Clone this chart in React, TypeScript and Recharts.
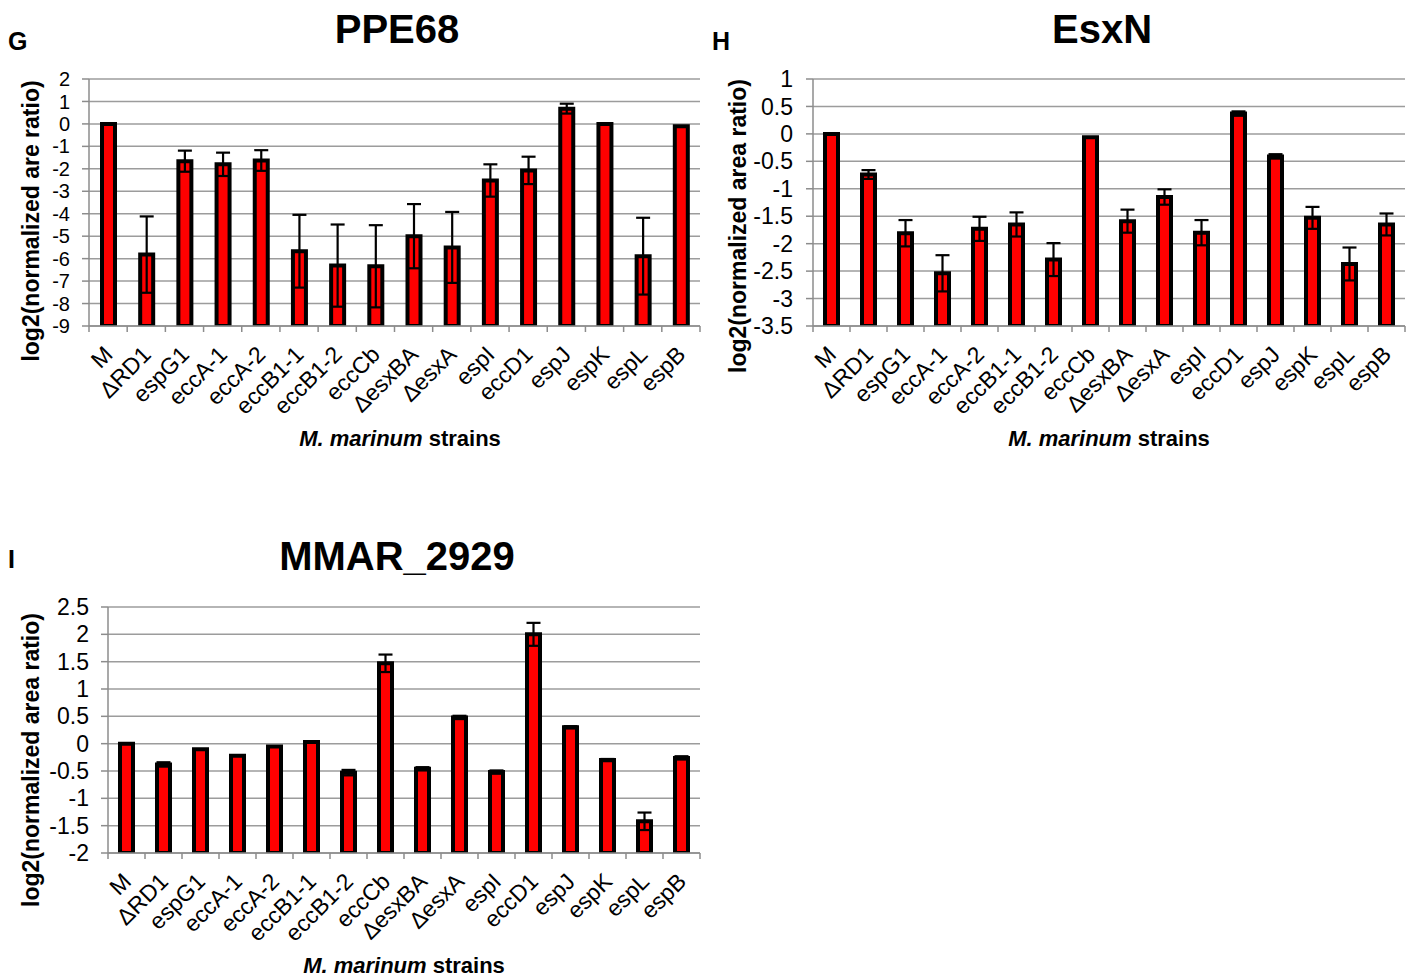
import React from 'react';
import { BarChart, Bar, XAxis, YAxis, CartesianGrid, ErrorBar } from 'recharts';

const categories = ['M', 'ΔRD1', 'espG1', 'eccA-1', 'eccA-2', 'eccB1-1', 'eccB1-2', 'eccCb', 'ΔesxBA', 'ΔesxA', 'espI', 'eccD1', 'espJ', 'espK', 'espL', 'espB'];

const ppe68Values = [0, -5.82, -1.66, -1.8, -1.63, -5.67, -6.31, -6.34, -5.0, -5.5, -2.52, -2.07, 0.68, 0, -5.89, -0.1];
const ppe68Errors = [0, 1.7, 0.47, 0.52, 0.46, 1.62, 1.83, 1.83, 1.43, 1.58, 0.72, 0.61, 0.22, 0, 1.71, 0];

const esxNValues = [0, -0.74, -1.81, -2.54, -1.73, -1.65, -2.29, -0.06, -1.59, -1.15, -1.8, 0.37, -0.41, -1.53, -2.37, -1.65];
const esxNErrors = [0, 0.08, 0.24, 0.33, 0.22, 0.22, 0.3, 0, 0.21, 0.14, 0.23, 0.04, 0.04, 0.2, 0.3, 0.2];

const mmarValues = [0, -0.38, -0.1, -0.22, -0.05, 0.03, -0.53, 1.47, -0.46, 0.48, -0.52, 2.0, 0.3, -0.3, -1.42, -0.26];
const mmarErrors = [0, 0.04, 0, 0, 0, 0, 0.05, 0.16, 0.03, 0.03, 0.03, 0.21, 0.02, 0.02, 0.16, 0.03];

const ppe68Ticks = [-9, -8, -7, -6, -5, -4, -3, -2, -1, 0, 1, 2];
const esxNTicks = [-3.5, -3, -2.5, -2, -1.5, -1, -0.5, 0, 0.5, 1];
const mmarTicks = [-2, -1.5, -1, -0.5, 0, 0.5, 1, 1.5, 2, 2.5];

const FONT = '"Liberation Sans", Arial, Helvetica, sans-serif';
const AXIS_GRAY = '#8c8c8c';

type Row = { name: string; value: number; err: number };

function buildRows(values: number[], errors: number[]): Row[] {
  return categories.map((name, i) => ({ name, value: values[i], err: errors[i] }));
}

type Box = { x: number; y: number; w: number; h: number };
type Plot = { left: number; top: number; right: number; bottom: number };

function Panel({ region, plot, rows, ticks, tickMargin, yFont }: { region: Box; plot: Plot; rows: Row[]; ticks: number[]; tickMargin: number; yFont: number }) {
  const yAxisWidth = 70;
  const xAxisHeight = 100;
  const margin = {
    top: plot.top - region.y,
    left: plot.left - region.x - yAxisWidth,
    right: region.x + region.w - plot.right,
    bottom: region.y + region.h - plot.bottom - xAxisHeight,
  };
  const min = ticks[0];
  const max = ticks[ticks.length - 1];
  const band = (plot.right - plot.left) / rows.length;

  const renderTick = (p: any) => {
    const { x, y, payload, index } = p;
    const half = band / 2;
    const tx = x + 6;
    const ty = y + 30;
    return (
      <g>
        <line x1={x - half} x2={x - half} y1={y} y2={y + 6} stroke={AXIS_GRAY} strokeWidth={1.5} />
        {index === rows.length - 1 ? (
          <line x1={x + half} x2={x + half} y1={y} y2={y + 6} stroke={AXIS_GRAY} strokeWidth={1.5} />
        ) : null}
        <text
          x={tx}
          y={ty}
          transform={`rotate(-45 ${tx} ${ty})`}
          textAnchor="end"
          fontSize={23}
          fontFamily={FONT}
          fill="#000"
        >
          {payload.value}
        </text>
      </g>
    );
  };

  return (
    <div style={{ position: 'absolute', left: region.x, top: region.y, width: region.w, height: region.h }}>
      <BarChart width={region.w} height={region.h} data={rows} margin={margin}>
        <CartesianGrid vertical={false} stroke="#9c9c9c" strokeWidth={1.5} />
        <XAxis
          dataKey="name"
          interval={0}
          height={xAxisHeight}
          tickSize={0}
          tickMargin={0}
          tickLine={false}
          axisLine={{ stroke: AXIS_GRAY, strokeWidth: 1.5 }}
          tick={renderTick}
        />
        <YAxis
          type="number"
          domain={[min, max]}
          ticks={ticks}
          interval={0}
          width={yAxisWidth}
          tickSize={7}
          tickMargin={tickMargin}
          allowDataOverflow
          axisLine={{ stroke: AXIS_GRAY, strokeWidth: 1.5 }}
          tickLine={{ stroke: AXIS_GRAY, strokeWidth: 1.5 }}
          tick={{ fontSize: yFont, fill: '#000', fontFamily: FONT }}
        />
        <Bar
          dataKey={(d: Row) => [min, d.value]}
          fill="#ff0000"
          stroke="#000"
          strokeWidth={4}
          barSize={13}
          isAnimationActive={false}
        >
          <ErrorBar dataKey="err" width={7} stroke="#000" strokeWidth={2.2} direction="y" isAnimationActive={false} />
        </Bar>
      </BarChart>
    </div>
  );
}

function XTitle({ x, y }: { x: number; y: number }) {
  return (
    <text x={x} y={y} textAnchor="middle" fontSize={22} fontWeight="bold" fontFamily={FONT} fill="#000">
      <tspan fontStyle="italic">M. marinum</tspan> strains
    </text>
  );
}

function YTitle({ x, y, label }: { x: number; y: number; label: string }) {
  return (
    <text
      transform={`translate(${x} ${y}) rotate(-90)`}
      textAnchor="middle"
      fontSize={23}
      fontWeight="bold"
      fontFamily={FONT}
      fill="#000"
    >
      {label}
    </text>
  );
}

export default function App() {
  const ppe68Rows = buildRows(ppe68Values, ppe68Errors);
  const esxNRows = buildRows(esxNValues, esxNErrors);
  const mmarRows = buildRows(mmarValues, mmarErrors);

  return (
    <div style={{ position: 'absolute', left: 0, top: 0, width: 1408, height: 980, background: '#fff', overflow: 'hidden' }}>
      <svg width={1408} height={980} style={{ position: 'absolute', left: 0, top: 0 }}>
        <text x={8} y={50} fontSize={25} fontWeight="bold" fontFamily={FONT} fill="#000">G</text>
        <text x={712} y={50} fontSize={25} fontWeight="bold" fontFamily={FONT} fill="#000">H</text>
        <text x={8} y={568} fontSize={25} fontWeight="bold" fontFamily={FONT} fill="#000">I</text>

        <text x={397} y={43} textAnchor="middle" fontSize={40} fontWeight="bold" fontFamily={FONT} fill="#000">PPE68</text>
        <text x={1102} y={43} textAnchor="middle" fontSize={40} fontWeight="bold" fontFamily={FONT} fill="#000">EsxN</text>
        <text x={397} y={570} textAnchor="middle" fontSize={40} fontWeight="bold" fontFamily={FONT} fill="#000">MMAR_2929</text>

        <YTitle x={39} y={221} label="log2(normalized are ratio)" />
        <YTitle x={746} y={226} label="log2(normalized area ratio)" />
        <YTitle x={39} y={760} label="log2(normalized area ratio)" />

        <XTitle x={400} y={446} />
        <XTitle x={1109} y={446} />
        <XTitle x={404} y={973} />
      </svg>

      <Panel region={{ x: 0, y: 0, w: 710, h: 470 }} plot={{ left: 89, top: 79, right: 700, bottom: 326 }} rows={ppe68Rows} ticks={ppe68Ticks} tickMargin={12} yFont={20} />
      <Panel region={{ x: 700, y: 0, w: 708, h: 470 }} plot={{ left: 813, top: 79, right: 1405, bottom: 326 }} rows={esxNRows} ticks={esxNTicks} tickMargin={13} yFont={23} />
      <Panel region={{ x: 0, y: 520, w: 710, h: 460 }} plot={{ left: 108, top: 607, right: 700, bottom: 853 }} rows={mmarRows} ticks={mmarTicks} tickMargin={12} yFont={23} />
    </div>
  );
}
